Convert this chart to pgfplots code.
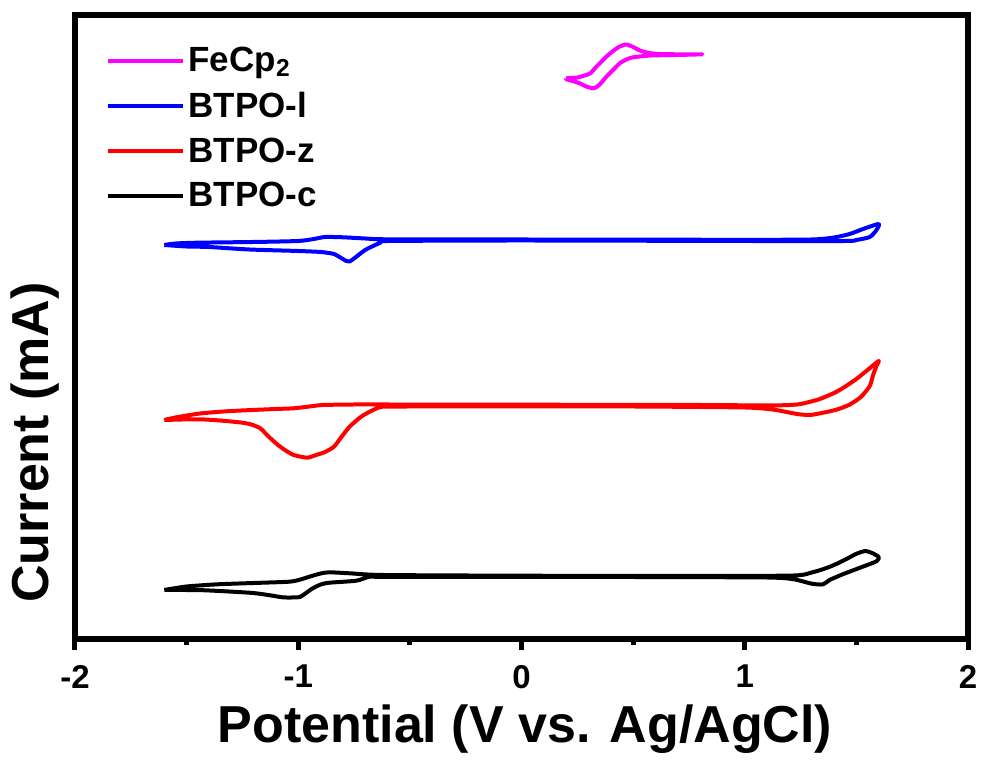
\documentclass[border=0pt]{standalone}
\usepackage{fontspec}
\setmainfont{Liberation Sans}
\usepackage{pgfplots}
\pgfplotsset{compat=1.18}
\definecolor{fmag}{RGB}{255,0,255}
\begin{document}
\begin{tikzpicture}
\begin{axis}[
 name=ax, at={(0,0)}, anchor=south west,
 scale only axis, width=446.5pt, height=312pt,
 xmin=-2, xmax=2, ymin=-639, ymax=-15,
 y filter/.expression={-y},
 axis line style={line width=3.2pt},
 xtick={-2,-1,0,1,2}, xticklabels={-2,-1,0,1,2},
 minor xtick={-1.5,-0.5,0.5,1.5},
 xtick pos=bottom, ytick=\empty,
 tick align=outside,
 major tick length=5.5pt, minor tick length=3pt,
 every tick/.style={line width=2.5pt, black},
 xticklabel style={font=\fontsize{16.5}{19}\selectfont\bfseries, yshift=-4pt},
 xlabel={Potential (V vs. Ag/AgCl)}, ylabel={Current (mA)},
 label style={font=\fontsize{26}{31}\selectfont\bfseries},
 xlabel style={at={(axis description cs:0.504,-0.145)}, anchor=center},
 ylabel style={at={(axis description cs:-0.0448,0.315)}, anchor=center},
 legend style={draw=none, fill=none, at={(axis description cs:0.027,0.962)}, anchor=north west,
   font=\fontsize{17.5}{20}\selectfont\bfseries, row sep=4.7pt, legend cell align=left},
 legend image code/.code={\draw[#1, line width=2pt] (0pt,0pt) -- (37.5pt,0pt);},
 every axis plot/.append style={line width=2pt, line join=round},
]
\addplot[fmag, smooth, tension=0.4] coordinates {
(0.20,78.3)(0.25,77.5)(0.29,75)(0.31,73)(0.33,68)(0.35,63.5)(0.38,56.7)(0.41,51)(0.44,46.5)(0.47,44.5)(0.50,47)(0.53,50.5)(0.57,53)(0.62,54)(0.70,54.3)(0.81,54.3)
(0.70,55)(0.58,55.5)(0.50,57.3)(0.47,59.5)(0.44,63.3)(0.41,70)(0.38,76.7)(0.36,82)(0.34,86.5)(0.32,88.3)(0.29,86.5)(0.26,83.3)(0.23,81)(0.20,79.3)(0.20,78.3)
};
\addlegendentry{FeCp\textsubscript{2}}
\addplot[blue, smooth, tension=0.4] coordinates {
(-1.60,245)(-1.55,243.5)(-1.45,242.7)(-1.2,242)(-1.0,241)(-0.93,239)(-0.88,237)(-0.80,237.3)(-0.7,238.5)(-0.6,239.3)(0,239.5)(1.0,239.8)(1.3,239.5)(1.40,237.5)(1.47,234)(1.53,229)(1.6,224)
(1.59,230)(1.56,237)(1.5,240)(1.45,241)(1.0,241)(0,240.5)(-0.6,241)(-0.63,242.5)(-0.70,250)(-0.77,261.5)(-0.80,259)(-0.84,254)(-0.9,252)(-1.0,251)(-1.22,249.5)(-1.4,247)(-1.5,246.5)(-1.60,245)
};
\addlegendentry{BTPO-l}
\addplot[red, smooth, tension=0.4] coordinates {
(-1.60,420)(-1.55,417.5)(-1.44,413.5)(-1.30,411)(-1.10,409)(-1.02,408.3)(-0.95,406.5)(-0.89,405)(-0.75,404.5)(-0.62,404.5)(0,404.7)(0.8,405)(1.1,405.5)(1.20,405)(1.25,404)(1.33,399.5)(1.40,393)(1.44,388)(1.50,379)(1.55,370)(1.60,361)
(1.59,366)(1.575,375)(1.56,386)(1.52,397)(1.47,404.6)(1.42,409)(1.38,411.4)(1.30,414.8)(1.25,414.5)(1.21,413)(1.13,409.7)(1.0,407.5)(0.5,406.5)(0,406.3)(-0.5,406.5)(-0.62,406.7)(-0.65,408.5)(-0.68,411.7)(-0.72,417)(-0.77,426.7)(-0.81,438)(-0.84,446.7)(-0.88,452)(-0.92,455)(-0.96,457.7)(-1.02,455)(-1.06,450)(-1.10,443.3)(-1.14,435)(-1.17,428.3)(-1.21,424.5)(-1.25,422.7)(-1.35,420.5)(-1.44,419.3)(-1.52,419.5)(-1.60,420)
};
\addlegendentry{BTPO-z}
\addplot[black, smooth, tension=0.4] coordinates {
(-1.60,590)(-1.50,586.5)(-1.36,584.3)(-1.20,583)(-1.04,581.7)(-0.99,579.5)(-0.95,576.7)(-0.90,573.5)(-0.86,572.3)(-0.77,573.3)(-0.62,575)(0,575.7)(0.8,576)(1.22,575.5)(1.30,572.5)(1.36,568.5)(1.41,564)(1.46,558.5)(1.50,553.8)(1.54,551)(1.57,553)(1.60,557)
(1.59,561.3)(1.52,567.4)(1.44,574.2)(1.38,580)(1.35,584.4)(1.30,583.7)(1.22,579.3)(1.1,577.5)(0.5,577)(0,576.8)(-0.6,577)(-0.68,576.7)(-0.74,580.7)(-0.86,582.7)(-0.90,584.5)(-0.94,589)(-0.99,596.7)(-1.03,597.5)(-1.07,597.3)(-1.15,594.5)(-1.22,592.7)(-1.43,590.2)(-1.60,590)
};
\addlegendentry{BTPO-c}
\end{axis}
\pgfresetboundingbox
\path (-37.5pt,-62.5pt) rectangle (455pt,319.5pt);
\end{tikzpicture}
\end{document}
